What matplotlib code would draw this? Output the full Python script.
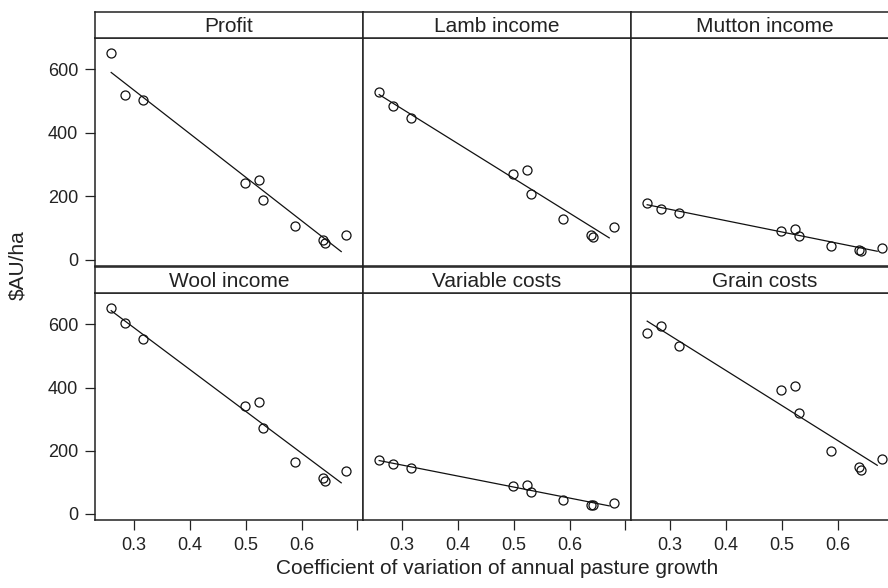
import numpy as np
import matplotlib
matplotlib.use("Agg")
import matplotlib.pyplot as plt

plt.rcParams['font.family'] = ['Liberation Sans', 'DejaVu Sans']

# ---- data ----
cv_growth = [0.259, 0.284, 0.316, 0.499, 0.524, 0.531, 0.588, 0.639, 0.642, 0.680]

panel_names = ["Profit", "Lamb income", "Mutton income",
               "Wool income", "Variable costs", "Grain costs"]

profit = [651, 519, 505, 243, 251, 189, 106, 62, 53, 78]
lamb_income = [530, 484, 448, 272, 282, 209, 129, 80, 73, 103]
mutton_income = [179, 162, 148, 92, 96, 75, 45, 32, 29, 38]
wool_income = [653, 603, 552, 342, 353, 272, 166, 113, 105, 137]
variable_costs = [172, 159, 144, 90, 92, 71, 45, 29, 27, 36]
grain_costs = [574, 594, 532, 391, 404, 320, 199, 149, 139, 173]

series = [profit, lamb_income, mutton_income, wool_income, variable_costs, grain_costs]

fit_range = [0.259, 0.671]

x_ticks = [0.3, 0.4, 0.5, 0.6, 0.7]
x_tick_labels = ["0.3", "0.4", "0.5", "0.6", ""]
y_ticks = [0, 200, 400, 600]
y_tick_labels = ["0", "200", "400", "600"]

# ---- layout ----
W, H = 888, 588
fig = plt.figure(figsize=(W / 100, H / 100), dpi=100)

col_left = [95, 363, 631]
panel_w = 268
rows = [(38, 266), (293, 520)]  # (top, bottom) pixel of panel area
strip_h = 26
frame_col = "#222222"
text_col = "#222222"

for i, (name, vals) in enumerate(zip(panel_names, series)):
    r, c = divmod(i, 3)
    top, bot = rows[r]
    x0 = col_left[c] / W
    ax = fig.add_axes([x0, (H - bot) / H, panel_w / W, (bot - top) / H])
    sax = fig.add_axes([x0, (H - top) / H, panel_w / W, strip_h / H])

    xv = np.array(cv_growth)
    yv = np.array(vals)
    slope, intercept = np.polyfit(xv, yv, 1)
    fx = np.array(fit_range)
    ax.plot(fx, intercept + slope * fx, color="#111111", lw=0.9)
    ax.plot(xv, yv, linestyle="none", marker="o", markersize=6.5,
            markerfacecolor="none", markeredgecolor="#111111", markeredgewidth=0.9)

    ax.set_xlim(0.23, 0.71)
    ax.set_ylim(-19, 699)
    for sp in ax.spines.values():
        sp.set_color(frame_col)
        sp.set_linewidth(1.1)
    ax.tick_params(axis="both", direction="out", length=7, width=0.9,
                   color=frame_col, labelcolor=text_col, labelsize=13, pad=5)
    ax.set_xticks(x_ticks)
    ax.set_yticks(y_ticks)
    if r == 1:
        ax.set_xticklabels(x_tick_labels)
    else:
        ax.tick_params(axis="x", bottom=False, labelbottom=False)
    if c == 0:
        ax.set_yticklabels(y_tick_labels)
    else:
        ax.tick_params(axis="y", left=False, labelleft=False)

    sax.set_xticks([])
    sax.set_yticks([])
    sax.set_facecolor("white")
    for sp in sax.spines.values():
        sp.set_color(frame_col)
        sp.set_linewidth(1.1)
    sax.text(0.5, 0.45, name, ha="center", va="center", fontsize=15,
             color=text_col, transform=sax.transAxes)

fig.text(497 / W, 1 - 569 / H, "Coefficient of variation of annual pasture growth",
         ha="center", va="center", fontsize=15, color=text_col)
fig.text(18 / W, 1 - 265 / H, "$AU/ha", ha="center", va="center",
         rotation=90, fontsize=15, color=text_col)

fig.savefig("out.png", dpi=100)
